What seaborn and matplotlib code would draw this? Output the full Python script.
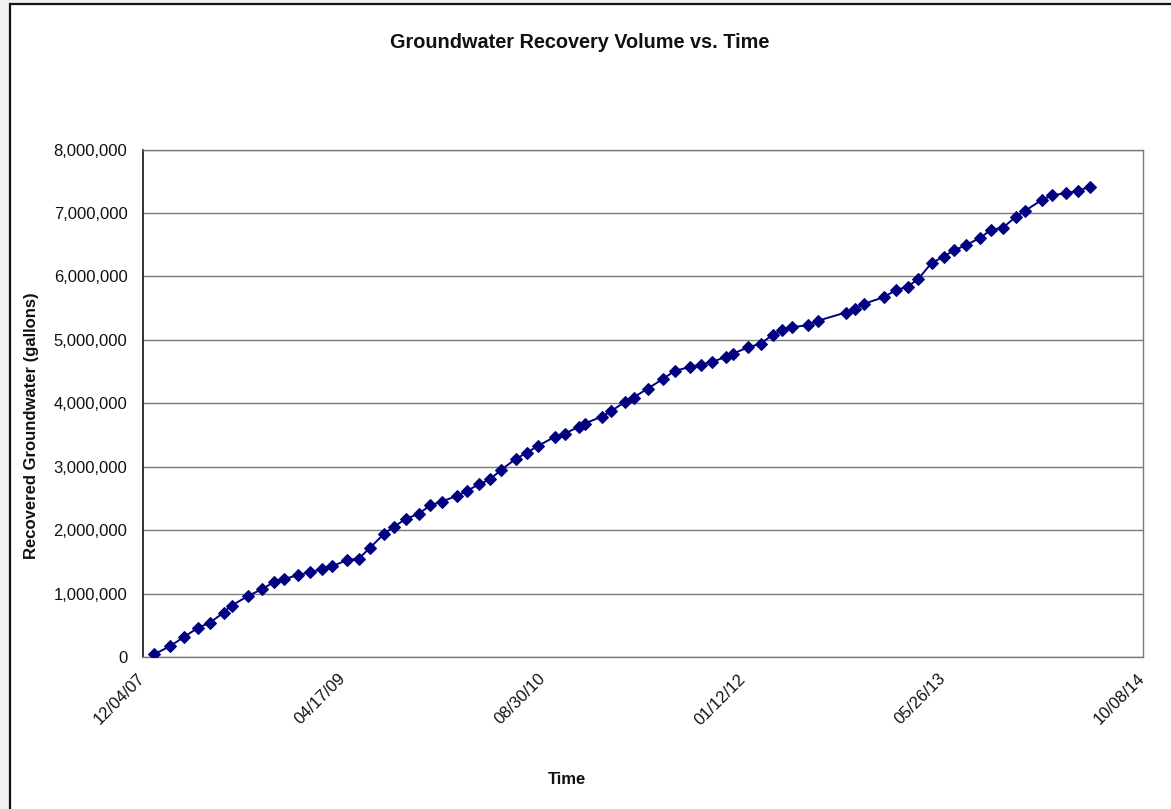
import matplotlib
matplotlib.use("Agg")
import matplotlib.pyplot as plt
import matplotlib.dates as mdates
from matplotlib.patches import Rectangle
from matplotlib.ticker import FuncFormatter
import pandas as pd
import seaborn as sns

# Sampling dates and cumulative recovered volume (gallons)
sample_dates = [
    "2008-01-01", "2008-02-10", "2008-03-15", "2008-04-20", "2008-05-20",
    "2008-06-23", "2008-07-13", "2008-08-23", "2008-09-27", "2008-10-27",
    "2008-11-21", "2008-12-27", "2009-01-25", "2009-02-23", "2009-03-22",
    "2009-04-28", "2009-05-27", "2009-06-24", "2009-07-29", "2009-08-22",
    "2009-09-23", "2009-10-25", "2009-11-21", "2009-12-21", "2010-01-27",
    "2010-02-22", "2010-03-23", "2010-04-20", "2010-05-18", "2010-06-23",
    "2010-07-21", "2010-08-19", "2010-09-29", "2010-10-24", "2010-11-28",
    "2010-12-13", "2011-01-25", "2011-02-16", "2011-03-23", "2011-04-14",
    "2011-05-19", "2011-06-26", "2011-07-26", "2011-09-01", "2011-09-29",
    "2011-10-27", "2011-11-30", "2011-12-18", "2012-01-25", "2012-02-26",
    "2012-03-27", "2012-04-19", "2012-05-14", "2012-06-24", "2012-07-18",
    "2012-09-25", "2012-10-18", "2012-11-11", "2012-12-29", "2013-01-28",
    "2013-02-28", "2013-03-26", "2013-04-28", "2013-05-28", "2013-06-23",
    "2013-07-23", "2013-08-28", "2013-09-23", "2013-10-24", "2013-11-25",
    "2013-12-17", "2014-01-30", "2014-02-24", "2014-03-30", "2014-04-30",
    "2014-05-28",
]
recovered_gallons = [
    40000, 170000, 310000, 460000, 540000,
    700000, 810000, 960000, 1070000, 1180000,
    1230000, 1290000, 1340000, 1380000, 1430000,
    1530000, 1550000, 1720000, 1940000, 2050000,
    2180000, 2260000, 2390000, 2450000, 2540000,
    2620000, 2720000, 2800000, 2950000, 3120000,
    3220000, 3330000, 3470000, 3520000, 3630000,
    3680000, 3790000, 3870000, 4020000, 4090000,
    4230000, 4380000, 4510000, 4570000, 4610000,
    4650000, 4730000, 4780000, 4880000, 4940000,
    5080000, 5150000, 5200000, 5230000, 5300000,
    5430000, 5490000, 5570000, 5670000, 5780000,
    5840000, 5960000, 6210000, 6310000, 6410000,
    6490000, 6610000, 6730000, 6770000, 6940000,
    7030000, 7210000, 7280000, 7310000, 7350000,
    7410000,
]
axis_start = "2007-12-04"
axis_end = "2014-10-08"
y_ticks = [0, 1000000, 2000000, 3000000, 4000000, 5000000, 6000000, 7000000, 8000000]

sns.set_style("white")
plt.rcParams["font.family"] = ["Liberation Sans", "DejaVu Sans"]

df = pd.DataFrame({"Date": pd.to_datetime(sample_dates), "Gallons": recovered_gallons})

W, H = 1171, 809
fig = plt.figure(figsize=(W / 100, H / 100), dpi=100)
fig.patch.set_facecolor("#f0f0f0")

# white chart sheet with a dark frame on its top and left edges
sheet = Rectangle((10 / W, -0.1), 1.2, 1.1 - 4 / H, transform=fig.transFigure,
                  facecolor="white", edgecolor="#111111", linewidth=1.6, zorder=-10)
fig.patches.append(sheet)

ax = fig.add_axes([142.7 / W, 1 - 657 / H, 1000 / W, 507.5 / H])
ax.set_zorder(1)
ax.set_facecolor("none")

sns.lineplot(data=df, x="Date", y="Gallons", ax=ax, color="#000080",
             linewidth=1.4, marker="D", markersize=6.5,
             markeredgecolor="#000080", zorder=3)

x0, x1 = pd.Timestamp(axis_start), pd.Timestamp(axis_end)
ax.set_xlim(x0, x1)
ax.set_ylim(y_ticks[0], y_ticks[-1])
ax.set_xticks(pd.date_range(x0, x1, freq="500D"))
ax.xaxis.set_major_formatter(mdates.DateFormatter("%m/%d/%y"))
ax.set_yticks(y_ticks)
ax.yaxis.set_major_formatter(FuncFormatter(lambda v, p: f"{int(v):,}"))

ax.grid(axis="y", color="#7a7a7a", linewidth=1.0)
ax.grid(axis="x", visible=False)
for side in ["top", "right", "bottom"]:
    ax.spines[side].set_color("#7a7a7a")
    ax.spines[side].set_linewidth(1.0)
ax.spines["left"].set_color("#111111")
ax.spines["left"].set_linewidth(1.2)

ax.tick_params(axis="both", direction="out", length=5, width=1,
               color="#333333", labelsize=12, labelcolor="#111111")
ax.tick_params(axis="y", pad=6)
ax.tick_params(axis="x", pad=9)
for lbl in ax.get_xticklabels():
    lbl.set_rotation(45)
    lbl.set_ha("right")
    lbl.set_va("center")
    lbl.set_rotation_mode("anchor")

ax.set_xlabel("")
ax.set_ylabel("")
fig.text(580 / W, 1 - 43 / H, "Groundwater Recovery Volume vs. Time",
         ha="center", va="center", fontsize=14.3, fontweight="bold", color="#111111")
fig.text(32 / W, 1 - 426 / H, "Recovered Groundwater (gallons)", rotation=90,
         ha="center", va="center", fontsize=12, fontweight="bold", color="#111111")
fig.text(567 / W, 1 - 779 / H, "Time", ha="center", va="center",
         fontsize=12, fontweight="bold", color="#111111")

fig.savefig("out.png", dpi=100, facecolor=fig.get_facecolor())
